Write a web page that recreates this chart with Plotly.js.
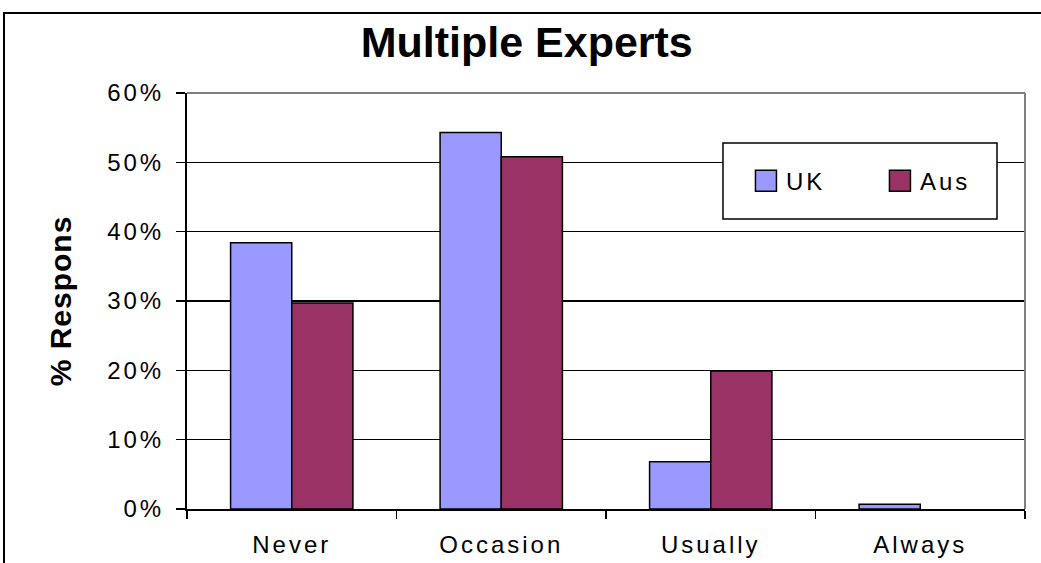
<!DOCTYPE html>
<html><head><meta charset="utf-8">
<script src="https://cdn.plot.ly/plotly-3.0.1.min.js"></script>
<style>
html,body{margin:0;padding:0;background:#fff;}
#frame{position:absolute;left:3px;top:12px;width:1100px;height:600px;border-left:2px solid #000;border-top:2px solid #000;}
#chart{position:absolute;left:0;top:0;width:1041px;height:563px;}
#chart .xtick text, #chart .ytick text, #chart .legendtext {letter-spacing:3px;}
#chart .g-ytitle text {letter-spacing:1px;}
#chart .legendpoints path {transform:translate(20px,0px) scale(1.75); vector-effect:non-scaling-stroke;}
</style>
</head><body>
<div id="frame"></div>
<div id="chart"></div>
<script>
const categories = ["Never", "Occasion", "Usually", "Always"];
const ukValues = [0.384, 0.543, 0.068, 0.007];
const ausValues = [0.297, 0.508, 0.199, 0.0];
const seriesNames = ["UK", "Aus"];
const yTicks = [0, 0.1, 0.2, 0.3, 0.4, 0.5, 0.6];
const yTickLabels = ["0%", "10%", "20%", "30%", "40%", "50%", "60%"];

const font = "Liberation Sans, Arial, sans-serif";
const traces = [
  {type:"bar", name:seriesNames[0], x:categories, y:ukValues,
   marker:{color:"#9999FF", line:{color:"#000", width:1.5}}},
  {type:"bar", name:seriesNames[1], x:categories, y:ausValues,
   marker:{color:"#993366", line:{color:"#000", width:[1.5, 1.5, 1.5, 0]}}}
];
const layout = {
  width:1041, height:563,
  paper_bgcolor:"rgba(0,0,0,0)", plot_bgcolor:"#fff",
  margin:{l:187, r:16, t:93, b:54},
  barmode:"group", bargap:0.416, bargroupgap:0,
  title:{text:"<b>Multiple Experts</b>", font:{family:font, size:43, color:"#000"},
         x:0.506, xanchor:"center", y:0.925, yanchor:"middle"},
  font:{family:font, color:"#000"},
  xaxis:{type:"category", tickson:"boundaries", ticks:"outside", ticklen:8, tickwidth:1.5, tickcolor:"#000",
         showline:true, linecolor:"#000", linewidth:2, showgrid:false,
         tickfont:{family:font, size:24}, ticklabelstandoff:13, fixedrange:true},
  yaxis:{range:[0,0.6], tickvals:yTicks, ticktext:yTickLabels, ticks:"outside", ticklen:9, tickwidth:1.5, tickcolor:"#000",
         showline:true, linecolor:"#000", linewidth:2, showgrid:true, gridcolor:"#000", gridwidth:1.5,
         zeroline:false, tickfont:{family:font, size:24}, ticklabelstandoff:7,
         title:{text:"<b>% Respons</b>", font:{family:font, size:30}, standoff:36}},
  showlegend:true,
  legend:{orientation:"h", x:0.667, xanchor:"left", y:0.788, yanchor:"middle",
          bgcolor:"rgba(0,0,0,0)", borderwidth:0, font:{family:font, size:24},
          entrywidth:89, entrywidthmode:"pixels", traceorder:"normal"},
  shapes:[
    {type:"rect", xref:"paper", yref:"paper", x0:0.6396, x1:0.9666, y0:0.697, y1:0.8798,
     line:{color:"#000", width:1.5}, fillcolor:"#fff", layer:"above"},
    {type:"line", xref:"paper", yref:"paper", x0:0, x1:1, y0:1, y1:1, line:{color:"#808080", width:2}, layer:"above"},
    {type:"line", xref:"paper", yref:"paper", x0:1, x1:1, y0:0, y1:1, line:{color:"#808080", width:2}, layer:"above"}
  ]
};
Plotly.newPlot("chart", traces, layout, {displayModeBar:false, staticPlot:true});
</script>
</body></html>
